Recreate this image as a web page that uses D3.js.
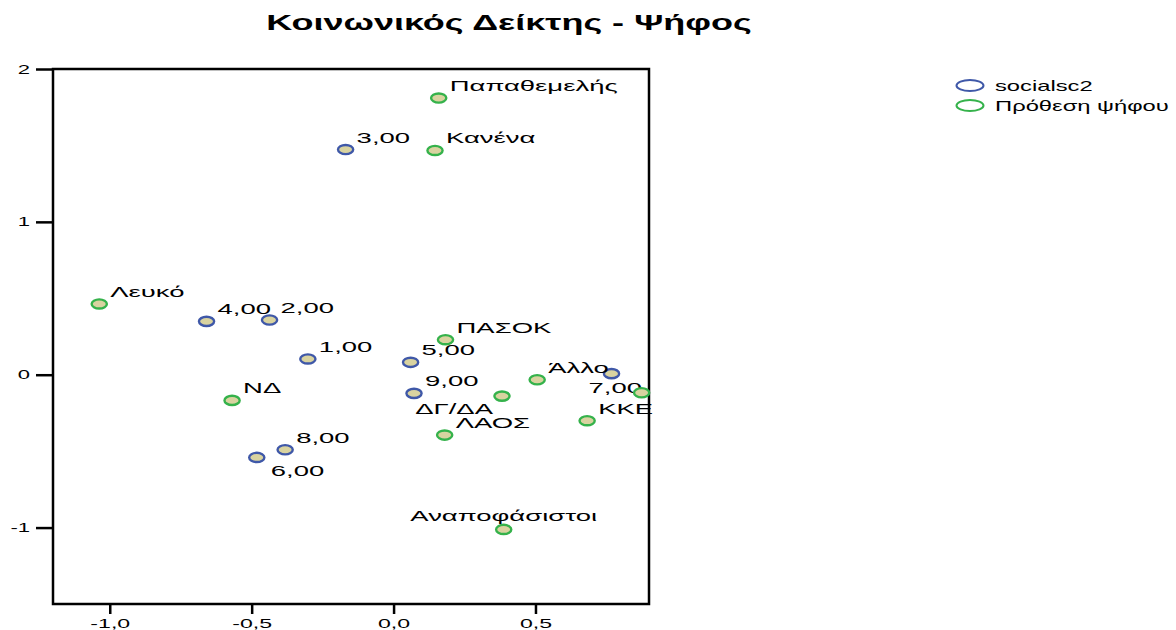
<!DOCTYPE html>
<html>
<head>
<meta charset="utf-8">
<script src="https://cdn.jsdelivr.net/npm/d3@7"></script>
<style>
  body { margin: 0; background: #fff; }
  text { font-family: "Liberation Sans", Arial, sans-serif; fill: #000; }
</style>
</head>
<body>
<div class="chart"></div>
<script>
const w = 1176;
const h = 630;
const stretch = 1.68; // the original is drawn wide, so text gets scaled on x

// socialsc2 points
const socialLabels = ["1,00", "2,00", "3,00", "4,00", "5,00", "6,00", "7,00", "8,00", "9,00"];
const socialX = [-0.302, -0.437, -0.169, -0.659, 0.060, -0.482, 0.768, -0.382, 0.072];
const socialY = [0.103, 0.358, 1.473, 0.349, 0.081, -0.541, 0.007, -0.491, -0.122];

// Πρόθεση ψήφου points (one point sits on the right edge, its label is cut off)
const voteLabels = ["ΝΔ", "ΠΑΣΟΚ", "ΚΚΕ", "", "ΛΑΟΣ", "ΔΓ/ΔΑ", "Άλλο", "Λευκό", "Κανένα", "Αναποφάσιστοι", "Παπαθεμελής"];
const voteX = [-0.569, 0.183, 0.682, 0.874, 0.180, 0.382, 0.506, -1.037, 0.146, 0.388, 0.159];
const voteY = [-0.168, 0.229, -0.301, -0.118, -0.395, -0.140, -0.033, 0.463, 1.467, -1.012, 1.810];

const xTicks = [-1.0, -0.5, 0.0, 0.5];
const yTicks = [-1, 0, 1, 2];

const seriesNames = ["socialsc2", "Πρόθεση ψήφου"];
const seriesColors = ["#3f58a8", "#35b24b"];

// where a label goes relative to its point
const placement = {
  "ur": { dx: 11, dy: -7, anchor: "start" },
  "br": { dx: 14, dy: 19, anchor: "start" },
  "bl": { dx: -23, dy: 19, anchor: "start" },
  "le": { dx: -9, dy: 18, anchor: "end" },
  "top": { dx: 0, dy: -8, anchor: "middle" }
};
const labelSide = { "6,00": "br", "7,00": "bl", "ΔΓ/ΔΑ": "le", "Αναποφάσιστοι": "top" };

const svg = d3.select(".chart")
    .append("svg")
    .attr("width", w)
    .attr("height", h);

const x = d3.scaleLinear().domain([-1.2, 0.9]).range([53, 649]);
const y = d3.scaleLinear().domain([-1.5, 2]).range([604, 69]);

// title
svg.append("text")
    .attr("transform", `translate(509, 30) scale(${stretch * 0.975}, 1)`)
    .attr("text-anchor", "middle")
    .style("font-size", "22px")
    .style("font-weight", "bold")
    .text("Κοινωνικός Δείκτης - Ψήφος");

// axes
const yAxis = svg.append("g")
    .attr("transform", `translate(${x.range()[0]}, 0)`)
    .call(d3.axisLeft(y).tickValues(yTicks).tickSize(17).tickFormat(d => String(d)));

yAxis.selectAll("text")
    .attr("x", -23 / (stretch * 1.05))
    .attr("transform", `scale(${stretch * 1.05}, 1)`)
    .style("font-size", "12.5px");

const xAxis = svg.append("g")
    .attr("transform", `translate(0, ${y.range()[0]})`)
    .call(d3.axisBottom(x).tickValues(xTicks).tickSize(10).tickPadding(5)
        .tickFormat(d => d.toFixed(1).replace(".", ",")));

xAxis.selectAll("text")
    .attr("transform", `scale(${stretch * 1.1}, 1)`)
    .style("font-size", "12.5px");

svg.selectAll(".domain").remove();
svg.selectAll(".tick line").attr("stroke", "#000").attr("stroke-width", 2.5);

// frame
svg.append("rect")
    .attr("x", x.range()[0])
    .attr("y", y.range()[1])
    .attr("width", x.range()[1] - x.range()[0])
    .attr("height", y.range()[0] - y.range()[1])
    .attr("fill", "none")
    .attr("stroke", "#000")
    .attr("stroke-width", 2.5);

const series = [
  { labels: socialLabels, xs: socialX, ys: socialY, color: seriesColors[0] },
  { labels: voteLabels, xs: voteX, ys: voteY, color: seriesColors[1] }
];

series.forEach(function (s) {
    const pts = s.labels.map((l, i) => ({ label: l, x: s.xs[i], y: s.ys[i] }));

    const g = svg.append("g");

    g.selectAll("ellipse")
        .data(pts)
        .enter()
        .append("ellipse")
        .attr("cx", d => x(d.x))
        .attr("cy", d => y(d.y))
        .attr("rx", 7.6)
        .attr("ry", 4.6)
        .attr("fill", "#d9d3a0")
        .attr("stroke", s.color)
        .attr("stroke-width", 2.4);

    g.selectAll("text")
        .data(pts.filter(d => d.label !== ""))
        .enter()
        .append("text")
        .attr("transform", function (d) {
            const p = placement[labelSide[d.label] || "ur"];
            return `translate(${x(d.x) + p.dx}, ${y(d.y) + p.dy}) scale(${stretch * 1.09}, 1)`;
        })
        .attr("text-anchor", d => placement[labelSide[d.label] || "ur"].anchor)
        .style("font-size", "15px")
        .text(d => d.label);
});

// legend
const legend = svg.append("g")
    .attr("transform", "translate(970, 85.5)")
    .selectAll("g")
    .data(seriesNames)
    .enter()
    .append("g")
    .attr("transform", (d, i) => `translate(0, ${i * 20})`);

legend.append("ellipse")
    .attr("rx", 13.5)
    .attr("ry", 5.5)
    .attr("fill", "none")
    .attr("stroke", (d, i) => seriesColors[i])
    .attr("stroke-width", 2);

legend.append("text")
    .attr("transform", `translate(25, 5) scale(${stretch * 1.01}, 1)`)
    .style("font-size", "14px")
    .text(d => d);
</script>
</body>
</html>
